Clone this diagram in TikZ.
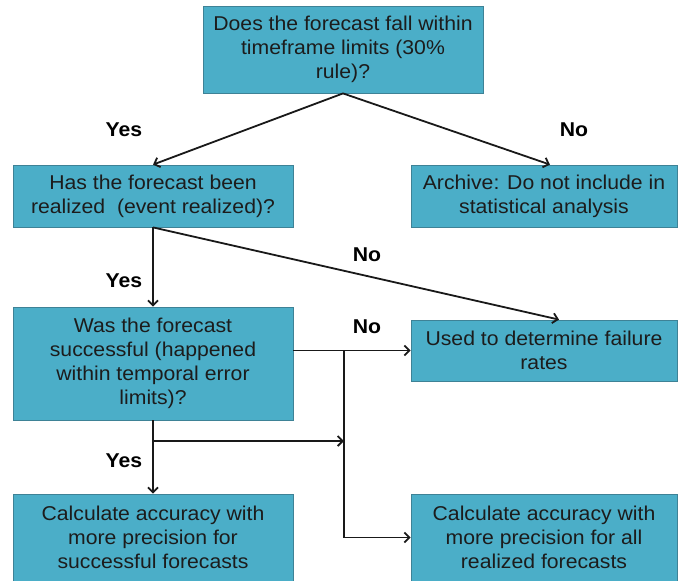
\documentclass[tikz,border=0pt]{standalone}
\usepackage{fontspec}
\setmainfont{Liberation Sans}[FakeStretch=1.06]
\usetikzlibrary{arrows.meta}

\definecolor{boxfill}{RGB}{75,174,200}
\definecolor{boxline}{RGB}{62,130,150}
\definecolor{boxtext}{RGB}{28,28,28}

\begin{document}
\begin{tikzpicture}[x=1pt, y=-1pt]

                \tikzstyle{box}    = [rectangle, draw=boxline, line width=0.8pt, fill=boxfill, text=boxtext, align=center, inner sep=0pt, font=\fontsize{20}{24}\selectfont]
                \tikzstyle{answer} = [font=\fontsize{20}{24}\selectfont\bfseries]
                \tikzstyle{link}   = [line width=1.8pt, draw=black!90, -{Straight Barb[length=5pt, width=10pt]}]
                \useasboundingbox (0, 0) rectangle (678, 581);
                \node [box, minimum width=280pt, minimum height=87pt](q) at (343, 49.5) {Does the forecast fall within\\timeframe limits (30\%\\rule)?};
                \node [box, minimum width=280pt, minimum height=62pt](r) at (153, 196) {Has the forecast been\\realized~ (event realized)?};
                \node [box, minimum width=266pt, minimum height=62pt](a) at (544, 196) {Archive: Do not include in\\statistical analysis};
                \node [box, minimum width=280pt, minimum height=113pt](s) at (153, 363.5) {Was the forecast\\successful (happened\\within temporal error\\limits)?};
                \node [box, minimum width=266pt, minimum height=61pt](f) at (544, 350.5) {Used to determine failure\\rates};
                \node [box, minimum width=280pt, minimum height=87pt](p) at (153, 537.5) {Calculate accuracy with\\more precision for\\successful forecasts};
                \node [box, minimum width=266pt, minimum height=87pt](t) at (544, 537.5) {Calculate accuracy with\\more precision for all\\realized forecasts};
                \coordinate (j) at (344, 350.5);
                \coordinate (k) at (153, 441);
                \node [answer](y1) at (124, 130) {Yes};
                \node [answer](n1) at (574, 130) {No};
                \node [answer](n2) at (367, 255) {No};
                \node [answer](y2) at (124, 281) {Yes};
                \node [answer](n3) at (367, 327) {No};
                \node [answer](y3) at (124, 461) {Yes};
                \draw [link] (q.south) -- (r.north);
                \draw [link] (q.south) -- ([xshift=6pt]a.north);
                \draw [link] (r.south) -- (s.north);
                \draw [link] (r.south) -- ([xshift=15pt]f.north);
                \draw [link] (s.east |- f.west) -- (f.west);
                \draw [link] (j) |- (t.west);
                \draw [link] (s.south) -- (p.north);
                \draw [link] (k) -- (k -| j);
\end{tikzpicture}
\end{document}
